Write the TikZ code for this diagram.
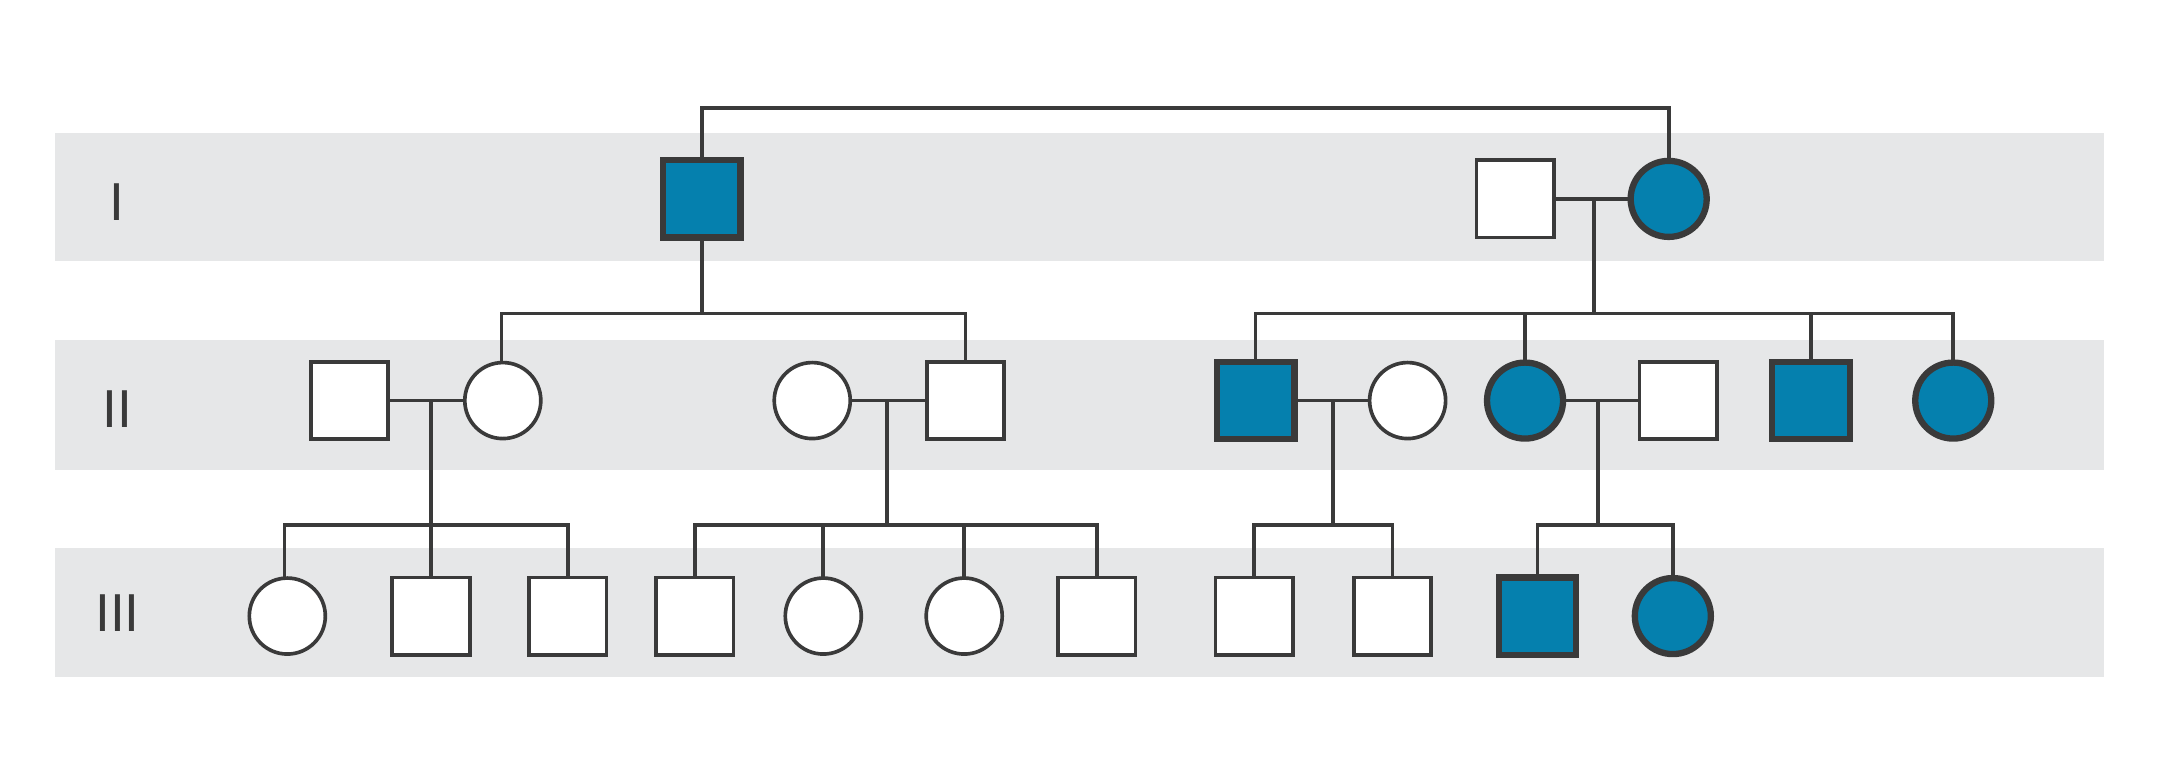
\documentclass[tikz,border=0pt]{standalone}
\usepackage{fontspec}
\setmainfont{Liberation Sans}
\begin{document}
\begin{tikzpicture}[x=0.01cm,y=-0.01cm,
  line/.style={draw=lc,line width=0.75pt},
  sq/.style={rectangle,draw=lc,line width=0.75pt,fill=white,minimum size=0.56cm,inner sep=0pt},
  ci/.style={circle,draw=lc,line width=0.75pt,fill=white,minimum size=0.55cm,inner sep=0pt},
  aff/.style={fill=af,line width=1.3pt},
  lab/.style={font=\fontsize{11}{11}\selectfont,text=lc}]
\definecolor{lc}{HTML}{3A3A3A}
\definecolor{af}{HTML}{0580AE}
\definecolor{band}{HTML}{E6E7E8}
\useasboundingbox (0,0) rectangle (1568,562);
\fill[band] (40,96) rectangle (1523,189);
\fill[band] (40,246) rectangle (1523,340);
\fill[band] (40,397) rectangle (1523,490);
\node[lab] (LI) at (85,146) {I};
\node[lab] (LII) at (85,296) {II};
\node[lab] (LIII) at (85,444) {III};
% connectors first
\coordinate (c1) at (1154,144);
\coordinate (c2) at (312,290);
\coordinate (c3) at (642,290);
\coordinate (c4) at (965,290);
\coordinate (c5) at (1157,290);
\draw[line] (508,144) -- (508,78) -- (1208,78) -- (1208,144);
\draw[line] (1097,144) -- (1208,144);
\draw[line] (c1) -- (1154,227);
\draw[line] (508,144) -- (508,227);
\draw[line] (363,290) |- (699,227) -- (699,290);
\draw[line] (909,290) |- (1414,227) -- (1414,290);
\draw[line] (1104,227) -- (1104,290);
\draw[line] (1311,227) -- (1311,290);
\draw[line] (253,290) -- (364,290);
\draw[line] (588,290) -- (699,290);
\draw[line] (909,290) -- (1019,290);
\draw[line] (1104,290) -- (1215,290);
\draw[line] (c2) -- (312,446);
\draw[line] (206,446) |- (411,380) -- (411,446);
\draw[line] (c3) -- (642,380);
\draw[line] (503,446) |- (794,380) -- (794,446);
\draw[line] (596,380) -- (596,446);
\draw[line] (698,380) -- (698,446);
\draw[line] (c4) -- (965,380);
\draw[line] (908,446) |- (1008,380) -- (1008,446);
\draw[line] (c5) -- (1157,380);
\draw[line] (1113,446) |- (1211,380) -- (1211,446);
% Gen I
\node[sq,aff] (a1) at (508,144) {};
\node[sq] (a2) at (1097,144) {};
\node[ci,aff] (a3) at (1208,144) {};
% Gen II
\node[sq] (b1) at (253,290) {};
\node[ci] (b2) at (364,290) {};
\node[ci] (b3) at (588,290) {};
\node[sq] (b4) at (699,290) {};
\node[sq,aff] (b5) at (909,290) {};
\node[ci] (b6) at (1019,290) {};
\node[ci,aff] (b7) at (1104,290) {};
\node[sq] (b8) at (1215,290) {};
\node[sq,aff] (b9) at (1311,290) {};
\node[ci,aff] (b10) at (1414,290) {};
% Gen III
\node[ci] (d1) at (208,446) {};
\node[sq] (d2) at (312,446) {};
\node[sq] (d3) at (411,446) {};
\node[sq] (d4) at (503,446) {};
\node[ci] (d5) at (596,446) {};
\node[ci] (d6) at (698,446) {};
\node[sq] (d7) at (794,446) {};
\node[sq] (d8) at (908,446) {};
\node[sq] (d9) at (1008,446) {};
\node[sq,aff] (d10) at (1113,446) {};
\node[ci,aff] (d11) at (1211,446) {};
\end{tikzpicture}
\end{document}
